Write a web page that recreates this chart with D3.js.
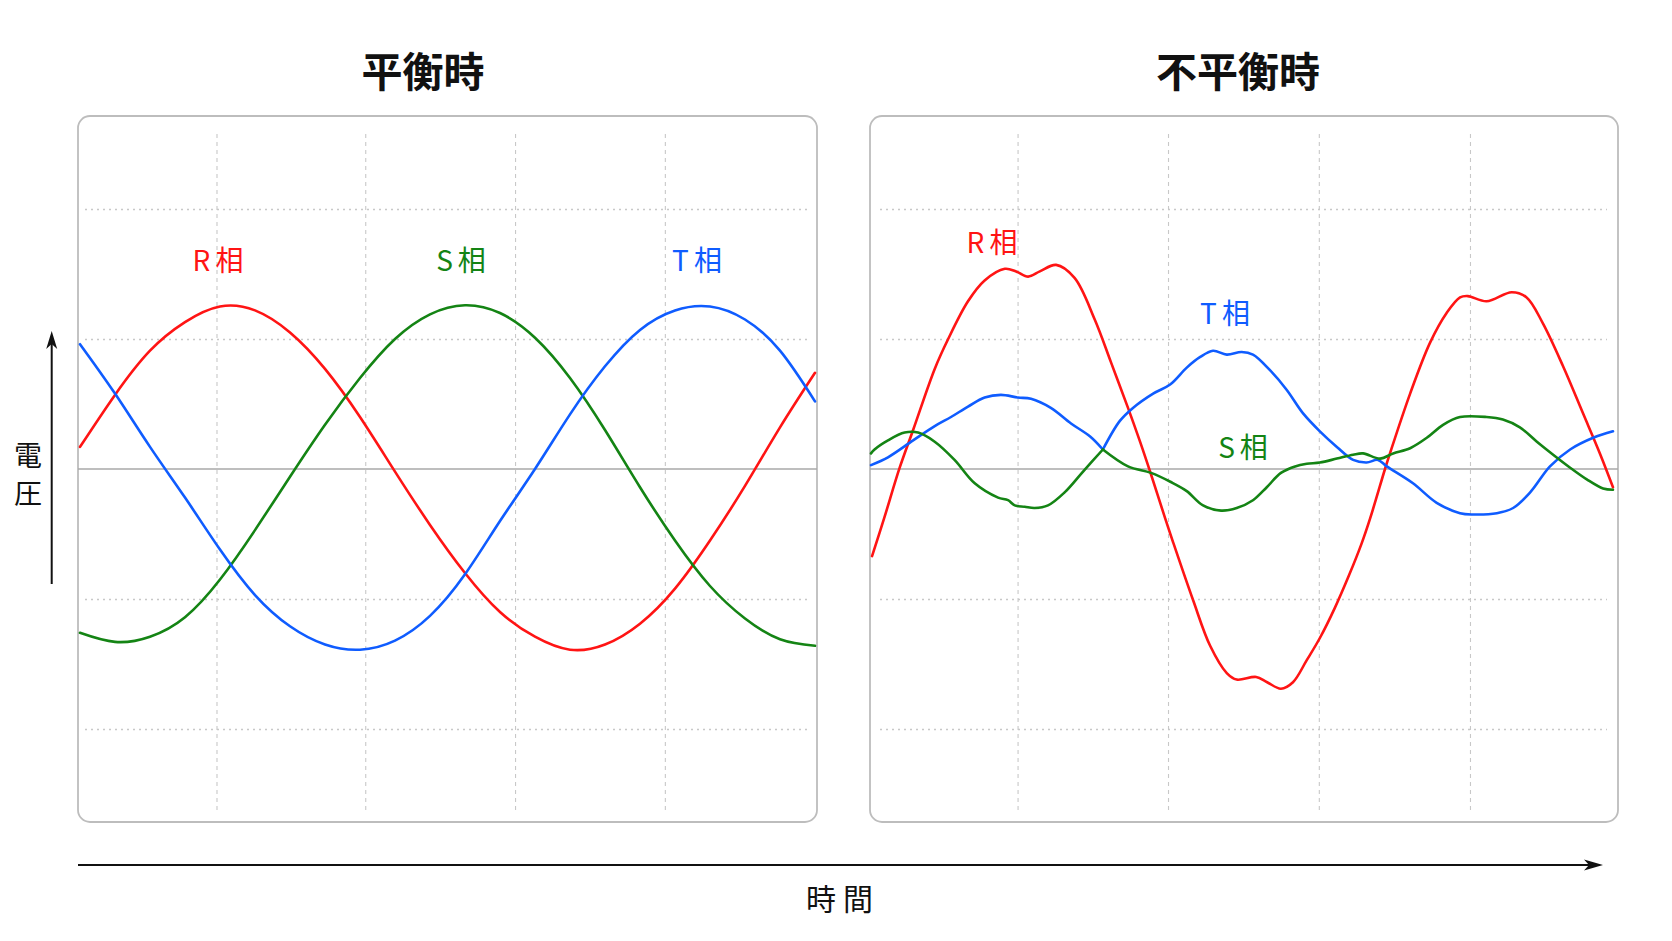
<!DOCTYPE html>
<html>
<head>
<meta charset="utf-8">
<script src="https://cdn.jsdelivr.net/npm/d3@7"></script>
<style>
  body { margin: 0; background: #ffffff; }
  svg { display: block; font-family: "Noto Sans CJK JP", "Noto Sans", sans-serif; }
</style>
</head>
<body>
<div id="chart"></div>
<script>
// time in ms, voltage in V (grid every 100 V)
const timeBalanced = [0, 1, 2, 3, 4, 5, 6, 7, 8, 9, 10, 11, 12, 13, 14, 15, 16, 17, 18, 19, 20, 21];
const balancedR = [17, 57, 91, 113, 125, 122, 105, 77, 40, -2, -43, -80, -110, -129, -139, -135, -119, -92, -55, -13, 32, 74];
const balancedS = [-126, -133, -129, -114, -85, -47, -6, 34, 70, 100, 119, 126, 120, 101, 70, 30, -14, -55, -90, -115, -131, -136];
const balancedT = [96, 58, 17, -22, -62, -97, -121, -135, -139, -132, -113, -81, -40, 0, 42, 79, 107, 122, 125, 115, 91, 52];

// unbalanced: [time, voltage] pairs
const unbalancedR = [[0.03, -67], [0.37, -38], [0.81, 1], [1.19, 30], [1.8, 77], [2.18, 100], [2.74, 129], [3.21, 145],
  [3.78, 154], [4.1, 152], [4.44, 148], [4.77, 152], [5.23, 157], [5.75, 147], [6.32, 115], [6.78, 82], [7.26, 47],
  [7.6, 21], [7.92, -5], [8.31, -38], [8.53, -56], [9.1, -101], [9.58, -136], [10.05, -157], [10.33, -162],
  [10.88, -160], [11.19, -164], [11.58, -169], [11.92, -164], [12.31, -147], [12.68, -130], [13.1, -107],
  [13.5, -82], [13.85, -58], [14.1, -38], [14.52, 0], [14.66, 12], [15.23, 58], [15.79, 97], [16.26, 120],
  [16.64, 132], [16.86, 133], [17.39, 129], [18.1, 136], [18.52, 132], [18.98, 112], [19.55, 79], [20.11, 43],
  [20.59, 12], [20.96, -14]];
const unbalancedS = [[0, 12], [0.1, 15], [0.48, 22], [0.95, 28], [1.33, 28], [1.8, 21], [2.36, 7], [2.93, -11],
  [3.59, -22], [3.87, -24], [4.06, -28], [4.34, -29], [4.62, -30], [5.0, -28], [5.47, -18], [5.99, -2], [6.55, 15],
  [7.26, 2], [7.91, -3], [8.47, -10], [8.92, -17], [9.38, -28], [9.89, -32], [10.33, -30], [10.79, -24],
  [11.18, -14], [11.58, -3], [11.98, 2], [12.31, 4], [12.68, 5], [13.16, 8], [13.62, 11], [13.9, 12], [14.38, 8],
  [14.75, 12], [15.23, 16], [15.7, 24], [16.16, 34], [16.64, 40], [17.39, 40], [17.85, 38], [18.33, 32],
  [18.81, 21], [19.27, 11], [19.75, 1], [20.22, -8], [20.68, -15], [20.96, -16]];
const unbalancedT = [[0, 3], [0.48, 9], [1.19, 22], [1.8, 33], [2.26, 40], [2.74, 48], [3.21, 55], [3.67, 57],
  [4.15, 55], [4.52, 54], [5.08, 47], [5.65, 35], [6.19, 25], [6.55, 15], [7.03, 37], [7.4, 47], [7.97, 58],
  [8.45, 65], [8.92, 78], [9.29, 86], [9.66, 91], [10.05, 88], [10.47, 90], [10.79, 88], [11.27, 76], [11.74, 61],
  [12.2, 43], [12.68, 29], [13.16, 17], [13.62, 7], [14.0, 5], [14.32, 7], [14.57, 2], [15.31, -11], [15.98, -26],
  [16.64, -34], [17.01, -35], [17.68, -34], [18.14, -30], [18.62, -18], [19.18, 2], [19.75, 15], [20.4, 24],
  [20.96, 29]];
// where the S and T traces meet and swap direction
const crossTimesUnbalanced = [6.55];

const gridTimesBalanced = [3.9, 8.15, 12.43, 16.71];
const gridTimesUnbalanced = [4.14, 8.39, 12.65, 16.92];
const gridVolts = [-200, -100, 100, 200];

const titles = ["平衡時", "不平衡時"];
const phaseNames = ["R相", "S相", "T相"];
const colors = { R: "#ff1414", S: "#148414", T: "#0f5cff" };

const width = 1672;
const height = 941;

const svg = d3.select("#chart").append("svg")
  .attr("width", width)
  .attr("height", height);

const y = d3.scaleLinear().domain([-200, 200]).range([729, 209]);

const panels = [
  {
    title: titles[0], titleX: 423, box: [78, 116, 739, 706],
    x: d3.scaleLinear().domain([0, 21]).range([80, 815]),
    curve: d3.curveNatural, breaks: [],
    gridTimes: gridTimesBalanced, hGrid: [85, 807],
    series: [
      { key: "R", pts: timeBalanced.map((t, i) => [t, balancedR[i]]) },
      { key: "S", pts: timeBalanced.map((t, i) => [t, balancedS[i]]) },
      { key: "T", pts: timeBalanced.map((t, i) => [t, balancedT[i]]) }
    ],
    labels: [
      { key: "R", text: phaseNames[0], x: 218, y: 259 },
      { key: "S", text: phaseNames[1], x: 461, y: 259 },
      { key: "T", text: phaseNames[2], x: 697, y: 259 }
    ]
  },
  {
    title: titles[1], titleX: 1238, box: [870, 116, 748, 706],
    x: d3.scaleLinear().domain([0, 21]).range([871, 1614.4]),
    curve: d3.curveCatmullRom.alpha(0.5), breaks: crossTimesUnbalanced,
    gridTimes: gridTimesUnbalanced, hGrid: [880, 1607],
    series: [
      { key: "R", pts: unbalancedR },
      { key: "T", pts: unbalancedT },
      { key: "S", pts: unbalancedS }
    ],
    labels: [
      { key: "R", text: phaseNames[0], x: 992, y: 241 },
      { key: "T", text: phaseNames[2], x: 1225, y: 312 },
      { key: "S", text: phaseNames[1], x: 1243, y: 446 }
    ]
  }
];

// split a trace into pieces at the given times (the break point goes in both pieces)
function splitAt(pts, breaks) {
  const pieces = [];
  let cur = [];
  pts.forEach((d) => {
    cur.push(d);
    if (breaks.includes(d[0]) && cur.length > 1) {
      pieces.push(cur);
      cur = [d];
    }
  });
  if (cur.length > 1) pieces.push(cur);
  return pieces;
}

panels.forEach((p) => {
  const [bx, by, bw, bh] = p.box;

  svg.append("text")
    .attr("x", p.titleX)
    .attr("y", 69)
    .attr("text-anchor", "middle")
    .attr("dominant-baseline", "central")
    .attr("font-size", "41px")
    .attr("font-weight", 700)
    .attr("fill", "#111")
    .text(p.title);

  svg.append("rect")
    .attr("x", bx).attr("y", by)
    .attr("width", bw).attr("height", bh)
    .attr("rx", 12)
    .attr("fill", "#fff")
    .attr("stroke", "#bdbdbd")
    .attr("stroke-width", 1.8);

  // vertical grid
  const vGrid = svg.append("g")
    .attr("transform", "translate(0, 810)")
    .call(d3.axisBottom(p.x).tickValues(p.gridTimes).tickSize(-(810 - 132)).tickFormat(""));
  vGrid.select(".domain").remove();
  vGrid.selectAll("line")
    .attr("stroke", "#c8c8c8")
    .attr("stroke-width", 1.1)
    .attr("stroke-dasharray", "4,4");

  // horizontal grid
  const hGrid = svg.append("g")
    .attr("transform", `translate(${p.hGrid[0]}, 0)`)
    .call(d3.axisLeft(y).tickValues(gridVolts).tickSize(-(p.hGrid[1] - p.hGrid[0])).tickFormat(""));
  hGrid.select(".domain").remove();
  hGrid.selectAll("line")
    .attr("stroke", "#c8c8c8")
    .attr("stroke-width", 1.3)
    .attr("stroke-dasharray", "2,4");

  // zero line
  svg.append("line")
    .attr("x1", bx).attr("x2", bx + bw)
    .attr("y1", y(0)).attr("y2", y(0))
    .attr("stroke", "#a8a8a8")
    .attr("stroke-width", 1.6);

  const line = d3.line()
    .x((d) => p.x(d[0]))
    .y((d) => y(d[1]))
    .curve(p.curve);

  p.series.forEach((s) => {
    splitAt(s.pts, p.breaks).forEach((piece) => {
      svg.append("path")
        .attr("d", line(piece))
        .attr("fill", "none")
        .attr("stroke", colors[s.key])
        .attr("stroke-width", 2.6)
        .attr("stroke-linejoin", "round")
        .attr("stroke-linecap", "round");
    });
  });

  p.labels.forEach((l) => {
    svg.append("text")
      .attr("x", l.x + 2.5)
      .attr("y", l.y)
      .attr("text-anchor", "middle")
      .attr("dominant-baseline", "central")
      .attr("font-size", "28px")
      .attr("letter-spacing", "5px")
      .attr("fill", colors[l.key])
      .text(l.text);
  });
});

// axis arrows
function arrowHead(tipX, tipY, dir) {
  const pts = dir === "up"
    ? [[tipX, tipY], [tipX - 5.5, tipY + 18], [tipX, tipY + 13], [tipX + 5.5, tipY + 18]]
    : [[tipX, tipY], [tipX - 19, tipY - 5.5], [tipX - 14, tipY], [tipX - 19, tipY + 5.5]];
  svg.append("polygon")
    .attr("points", pts.map((d) => d.join(",")).join(" "))
    .attr("fill", "#111");
}

svg.append("line")
  .attr("x1", 51.7).attr("x2", 51.7)
  .attr("y1", 584).attr("y2", 343)
  .attr("stroke", "#111").attr("stroke-width", 2);
arrowHead(51.7, 331, "up");

svg.append("line")
  .attr("x1", 78).attr("x2", 1590)
  .attr("y1", 865).attr("y2", 865)
  .attr("stroke", "#111").attr("stroke-width", 2.2);
arrowHead(1603, 865, "right");

svg.append("text")
  .attr("x", 28).attr("y", 454)
  .attr("text-anchor", "middle")
  .attr("dominant-baseline", "central")
  .attr("font-size", "28px")
  .attr("fill", "#111")
  .text("電");
svg.append("text")
  .attr("x", 28).attr("y", 492)
  .attr("text-anchor", "middle")
  .attr("dominant-baseline", "central")
  .attr("font-size", "28px")
  .attr("fill", "#111")
  .text("圧");

svg.append("text")
  .attr("x", 843).attr("y", 897)
  .attr("text-anchor", "middle")
  .attr("dominant-baseline", "central")
  .attr("font-size", "30px")
  .attr("letter-spacing", "7px")
  .attr("fill", "#111")
  .text("時間");
</script>
</body>
</html>
